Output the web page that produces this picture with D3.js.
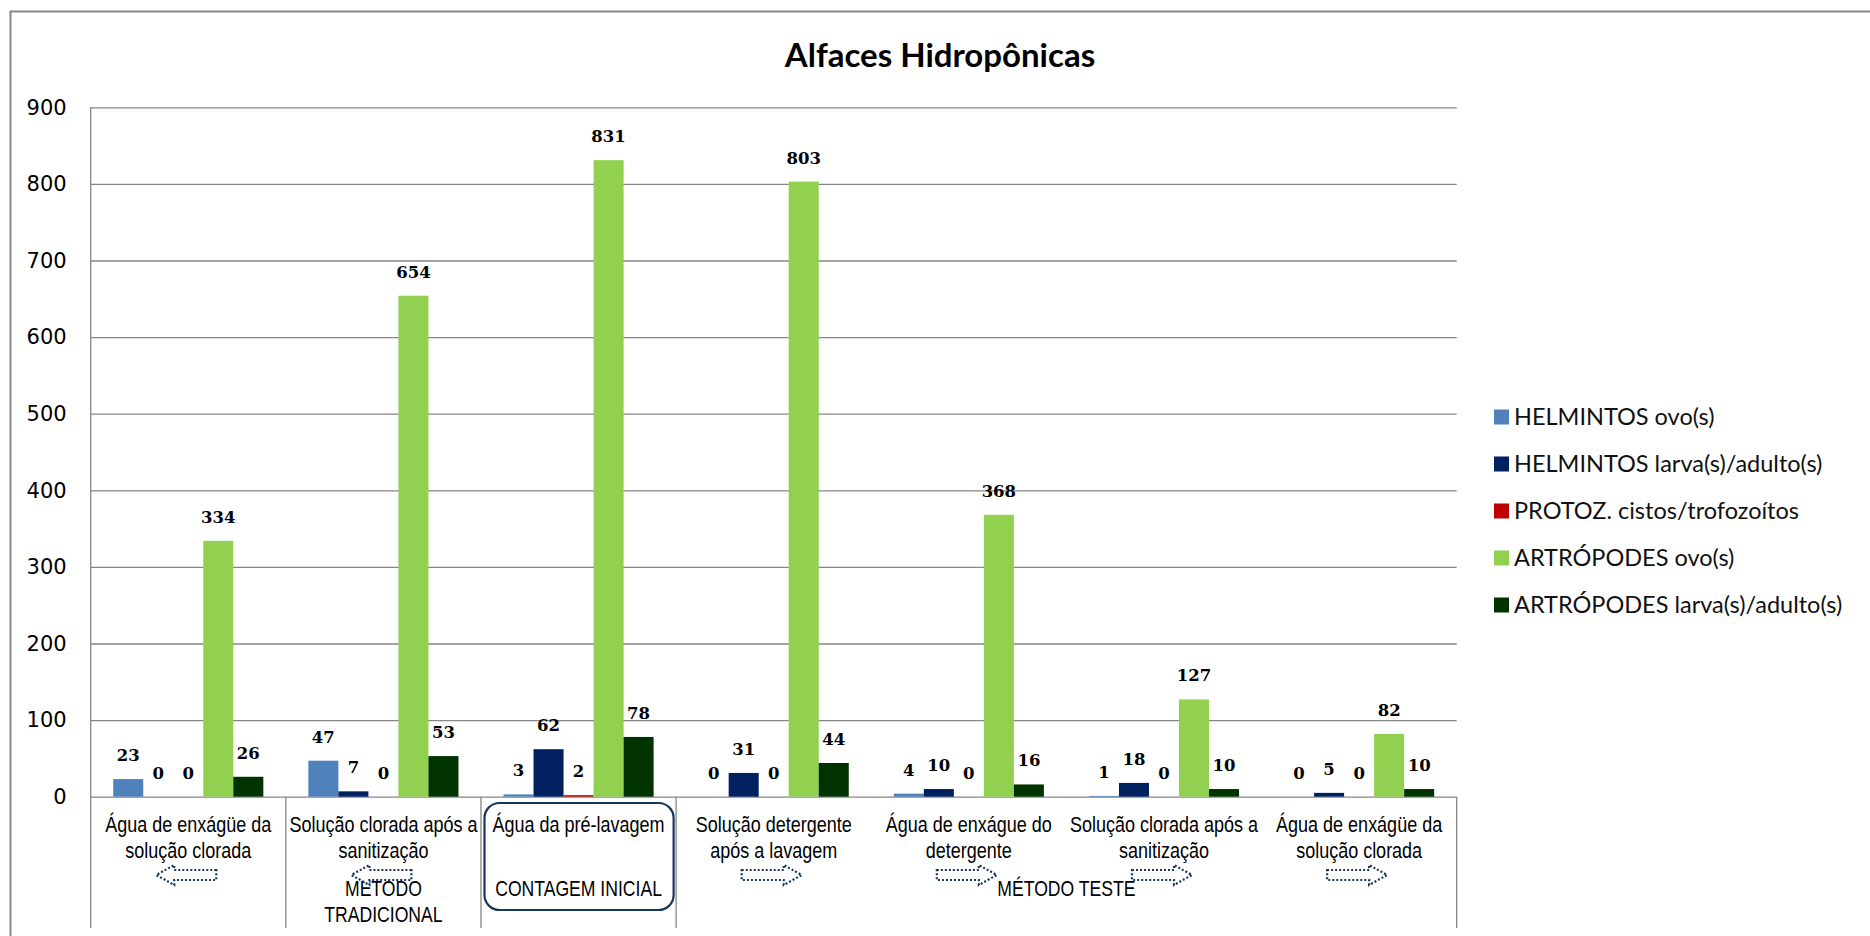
<!DOCTYPE html>
<html><head><meta charset="utf-8">
<script src="https://cdn.jsdelivr.net/npm/d3@7"></script>
<style>body{margin:0;background:#fff} svg{display:block}</style>
</head><body><svg id="c" width="1870" height="936"></svg>
<script>
// ---- data ----
const title = "Alfaces Hidropônicas";
const categories = ["c1","c2","c3","c4","c5","c6","c7"];
const categoryLines = [
  ["Água de enxágüe da","solução clorada"],
  ["Solução clorada após a","sanitização"],
  ["Água da pré-lavagem"],
  ["Solução detergente","após a lavagem"],
  ["Água de enxágue do","detergente"],
  ["Solução clorada após a","sanitização"],
  ["Água de enxágüe da","solução clorada"]
];
const arrowDirs = ["left","left",null,"right","right","right","right"];
const seriesNames = ["HELMINTOS ovo(s)","HELMINTOS larva(s)/adulto(s)","PROTOZ. cistos/trofozoítos","ARTRÓPODES ovo(s)","ARTRÓPODES larva(s)/adulto(s)"];
const seriesColors = ["#4f81bd","#002060","#c00000","#92d050","#003300"];
const helmintosOvo    = [23, 47, 3, 0, 4, 1, 0];
const helmintosLarva  = [0, 7, 62, 31, 10, 18, 5];
const protozoarios    = [0, 0, 2, 0, 0, 0, 0];
const artropodesOvo   = [334, 654, 831, 803, 368, 127, 82];
const artropodesLarva = [26, 53, 78, 44, 16, 10, 10];
const yTicks = [0,100,200,300,400,500,600,700,800,900];
const groupLabels = [
  {from:1, to:1, lines:["MÉTODO","TRADICIONAL"]},
  {from:2, to:2, lines:["CONTAGEM INICIAL"]},
  {from:3, to:6, lines:["MÉTODO TESTE"]}
];

const seriesValues = [helmintosOvo, helmintosLarva, protozoarios, artropodesOvo, artropodesLarva];

// ---- layout ----
const svg = d3.select("#c");
const L = 90.7, R = 1456.7, T = 107.3, B = 796.7, SEP_B = 928;
const grey = "#868686";
const sans = "'Liberation Sans',Arial,sans-serif";

// outer chart border (right/bottom lie outside the picture)
svg.append("rect").attr("x",10.5).attr("y",11.5).attr("width",1900).attr("height",1000)
  .attr("fill","none").attr("stroke",grey).attr("stroke-width",2);

const x0 = d3.scaleBand().domain(categories).range([L,R]).padding(0);
const x1 = d3.scaleBand().domain(d3.range(seriesNames.length)).range([0,x0.bandwidth()]).paddingInner(0).paddingOuter(0.75);
const y = d3.scaleLinear().domain([0,900]).range([B,T]);

// title
svg.append("text").attr("x",940).attr("y",67).attr("text-anchor","middle")
  .attr("font-family","Lato,sans-serif").attr("font-weight","bold").attr("font-size",33)
  .attr("fill","#000").text(title);

// y axis + gridlines
const yAxis = svg.append("g").attr("transform",`translate(${L},0)`)
  .call(d3.axisLeft(y).tickValues(yTicks).tickSize(-(R-L)).tickPadding(24));
yAxis.select(".domain").remove();
yAxis.selectAll(".tick line").attr("stroke",grey).attr("stroke-width",1.3);
yAxis.selectAll(".tick text").attr("font-family","'DejaVu Sans',sans-serif").attr("font-size",21).attr("fill","#000");

// separators (left axis extends down)
svg.append("line").attr("x1",L).attr("x2",L).attr("y1",T).attr("y2",SEP_B).attr("stroke",grey).attr("stroke-width",1.3);
[1,2,3].forEach(i=>{
  const xx = x0(categories[i]);
  svg.append("line").attr("x1",xx).attr("x2",xx).attr("y1",B).attr("y2",SEP_B).attr("stroke",grey).attr("stroke-width",1.3);
});
svg.append("line").attr("x1",R).attr("x2",R).attr("y1",B).attr("y2",SEP_B).attr("stroke",grey).attr("stroke-width",1.3);

// bars
const groups = svg.append("g").selectAll("g").data(categories).join("g")
  .attr("transform",d=>`translate(${x0(d)},0)`);
groups.each(function(c,ci){
  const g = d3.select(this);
  seriesValues.forEach((vals,si)=>{
    const v = vals[ci];
    g.append("rect").attr("x",x1(si)).attr("width",x1.bandwidth())
      .attr("y",y(v)).attr("height",B-y(v)).attr("fill",seriesColors[si]);
    g.append("text").attr("x",x1(si)+x1.bandwidth()/2).attr("y",y(v)-18)
      .attr("text-anchor","middle").attr("font-family","'DejaVu Serif',serif")
      .attr("font-weight","bold").attr("font-size",16.5).attr("fill","#000").text(v);
  });
});

// category labels (condensed horizontally like the original narrow face)
categories.forEach((c,ci)=>{
  const cx = x0(c)+x0.bandwidth()/2;
  categoryLines[ci].forEach((ln,li)=>{
    svg.append("text").attr("transform",`translate(${cx},${832+li*26}) scale(0.8,1)`)
      .attr("text-anchor","middle")
      .attr("font-family",sans).attr("font-size",22.5).attr("fill","#000").text(ln);
  });
});

// rounded box around initial count
{
  const bx = x0(categories[2]);
  svg.append("rect").attr("x",bx+3.5).attr("y",803).attr("width",x0.bandwidth()-6).attr("height",107)
    .attr("rx",15).attr("fill","none").attr("stroke","#17375e").attr("stroke-width",2.2);
}

// group labels
groupLabels.forEach(gl=>{
  const cx = (x0(categories[gl.from]) + x0(categories[gl.to]) + x0.bandwidth())/2;
  gl.lines.forEach((ln,li)=>{
    svg.append("text").attr("transform",`translate(${cx},${896+li*26}) scale(0.8,1)`)
      .attr("text-anchor","middle")
      .attr("font-family",sans).attr("font-size",22).attr("fill","#000").text(ln);
  });
});

// dotted block arrows
const arrowPts = [[-30,-5],[12,-5],[12,-10],[30,0],[12,10],[12,5],[-30,5]];
arrowDirs.forEach((dir,ci)=>{
  if(!dir) return;
  const cx = x0(categories[ci])+x0.bandwidth()/2 - 2;
  const s = dir==="right"?1:-1;
  svg.append("path")
    .attr("d", d3.line()(arrowPts.map(p=>[cx+s*p[0], 875+p[1]]))+"Z")
    .attr("fill","#fff").attr("stroke","#17375e").attr("stroke-width",2.2)
    .attr("stroke-dasharray","2,2");
});

// legend
const leg = svg.append("g").attr("transform","translate(1494,417)");
seriesNames.forEach((n,i)=>{
  const gy = i*47;
  leg.append("rect").attr("x",0).attr("y",gy-7.5).attr("width",15).attr("height",15).attr("fill",seriesColors[i]);
  leg.append("text").attr("x",20).attr("y",gy).attr("dy","0.35em")
    .attr("font-family","Lato,sans-serif").attr("font-size",23.5).attr("fill","#111").text(n);
});
</script></body></html>
